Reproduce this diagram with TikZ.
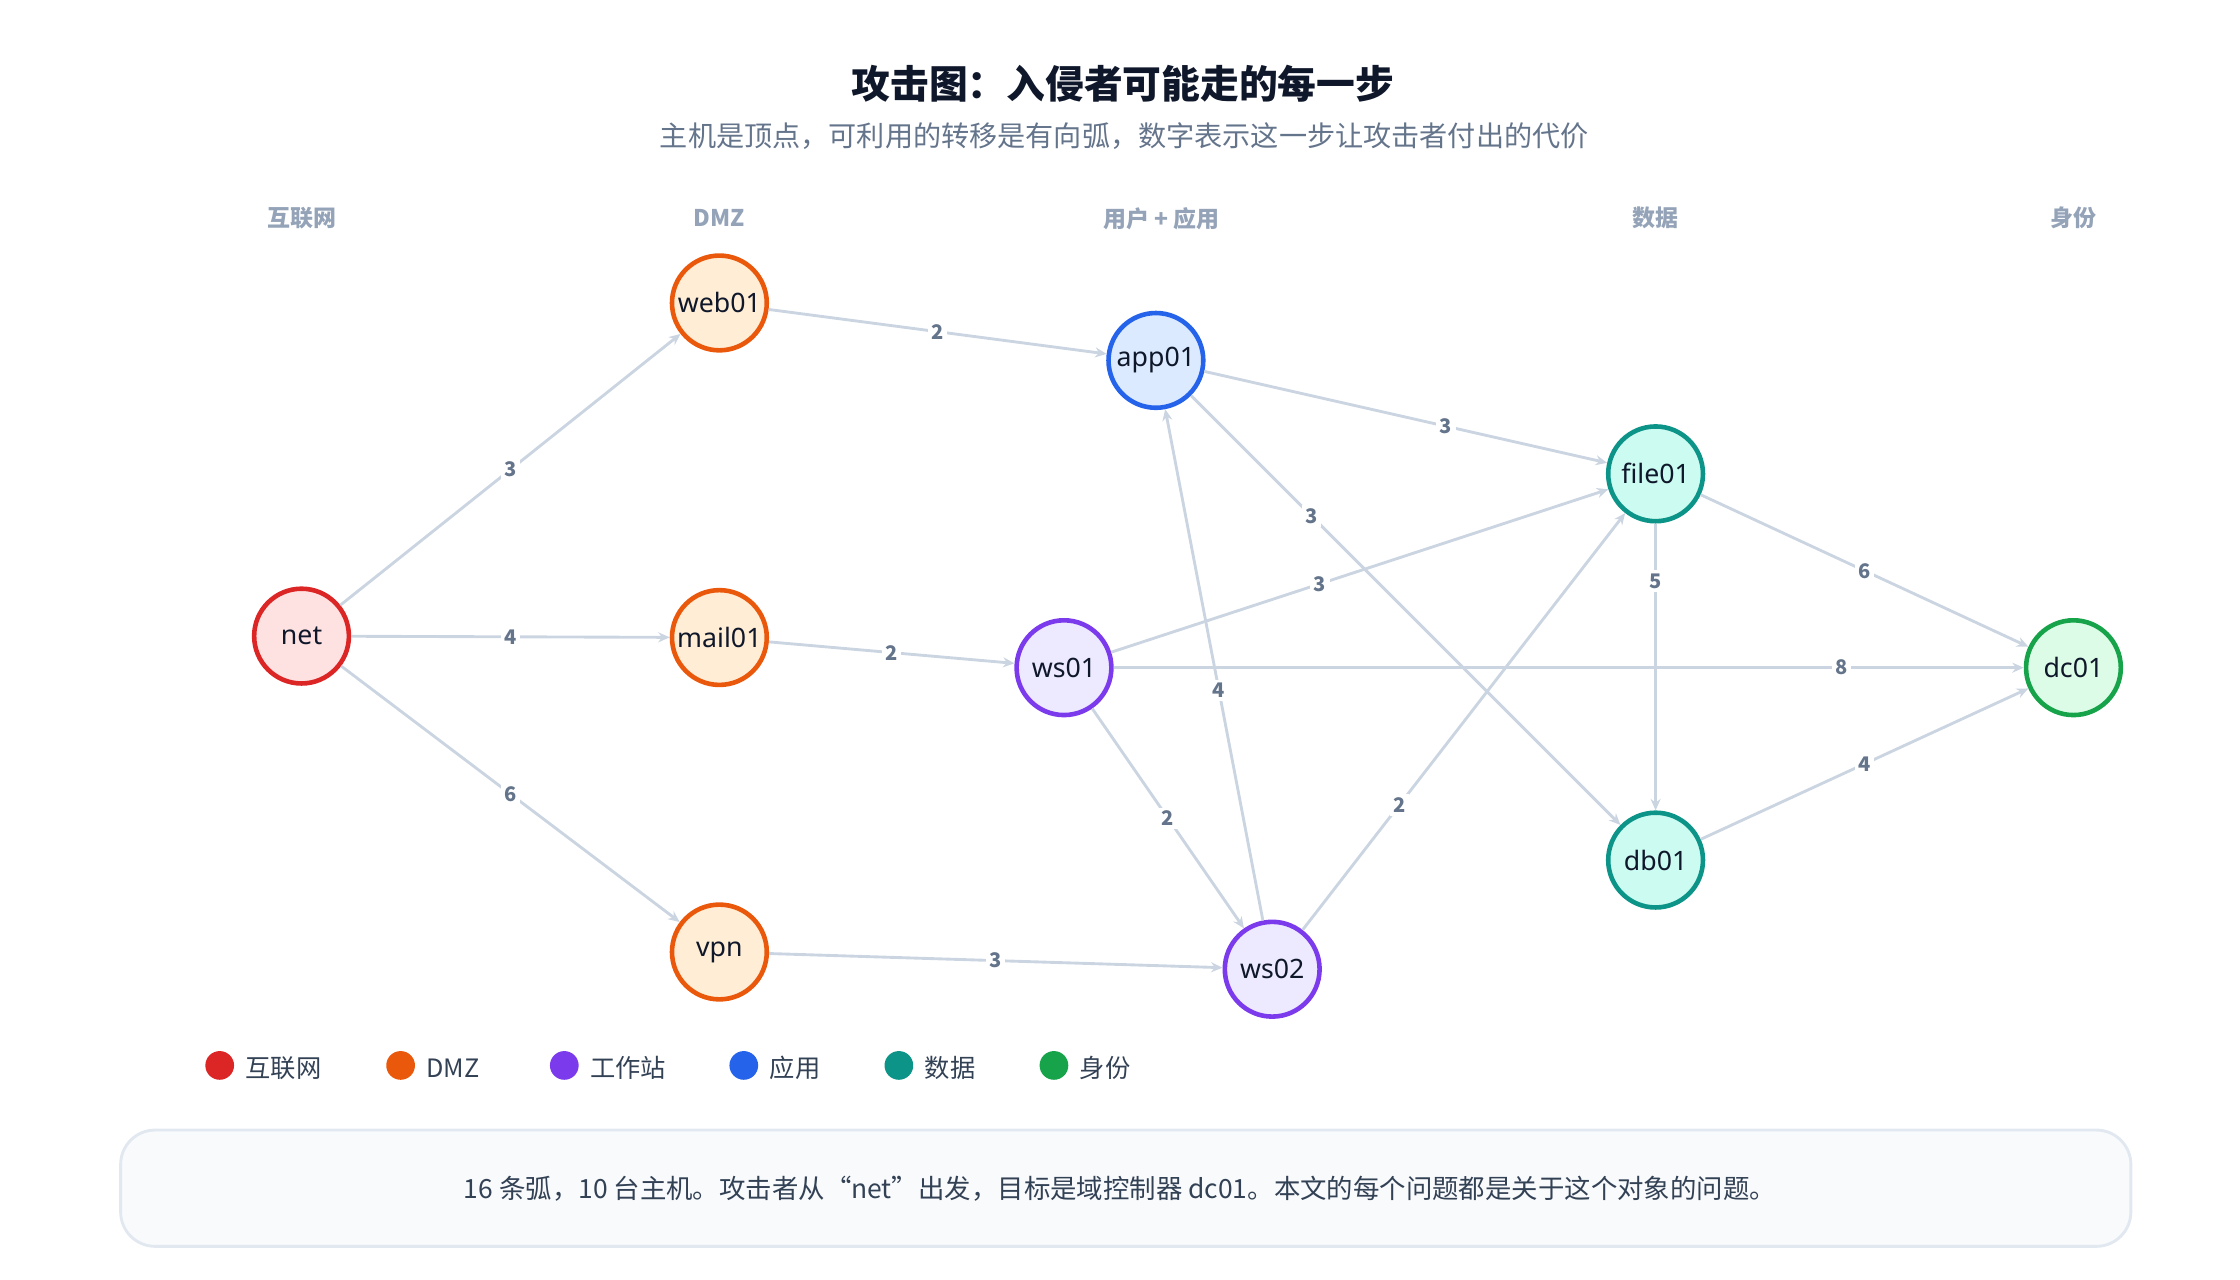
\documentclass[tikz,border=0pt]{standalone}
\usepackage{fontspec}
\setmainfont{Noto Sans CJK SC}
\newfontfamily\lat{Noto Sans}
\usetikzlibrary{arrows.meta}
\definecolor{edge}{HTML}{CBD5E1}
\definecolor{lbl}{HTML}{64748B}
\definecolor{hdr}{HTML}{94A3B8}
\definecolor{ttl}{HTML}{0F172A}
\definecolor{txt}{HTML}{334155}
\definecolor{boxF}{HTML}{F8FAFC}
\definecolor{boxS}{HTML}{E2E8F0}
\definecolor{rS}{HTML}{DC2626}\definecolor{rF}{HTML}{FEE2E2}
\definecolor{oS}{HTML}{EA580C}\definecolor{oF}{HTML}{FFEDD5}
\definecolor{pS}{HTML}{7C3AED}\definecolor{pF}{HTML}{EDE9FE}
\definecolor{bS}{HTML}{2563EB}\definecolor{bF}{HTML}{DBEAFE}
\definecolor{tS}{HTML}{0D9488}\definecolor{tF}{HTML}{CCFBF1}
\definecolor{gS}{HTML}{16A34A}\definecolor{gF}{HTML}{DCFCE7}
\begin{document}
\begin{tikzpicture}[x=0.5pt,y=-0.5pt,
  host/.style={circle,line width=1.6pt,minimum size=33pt,inner sep=0pt,font=\lat\bfseries\fontsize{9.3}{11}\selectfont,text=ttl},
  inet/.style={host,draw=rS,fill=rF}, dmz/.style={host,draw=oS,fill=oF},
  ws/.style={host,draw=pS,fill=pF}, app/.style={host,draw=bS,fill=bF},
  dat/.style={host,draw=tS,fill=tF}, idn/.style={host,draw=gS,fill=gF},
  e/.style={draw=edge,line width=1pt,-{Stealth[length=4pt,width=3.5pt]}},
  w/.style={fill=white,inner sep=1.2pt,font=\bfseries\fontsize{7}{8}\selectfont,text=lbl},
  hd/.style={font=\bfseries\fontsize{8}{10}\selectfont,text=hdr},
  dot/.style={circle,inner sep=0pt,minimum size=10pt},
  lg/.style={font=\fontsize{8.8}{10}\selectfont,text=txt,anchor=west}]
\useasboundingbox (0,0) rectangle (1560,891.4);
\node[font=\bfseries\fontsize{13.5}{15}\selectfont,text=ttl] (t) at (782,58) {攻击图：入侵者可能走的每一步};
\node[font=\fontsize{9.8}{11}\selectfont,text=lbl] (st) at (783,95) {主机是顶点，可利用的转移是有向弧，数字表示这一步让攻击者付出的代价};
\node[hd] (h1) at (210,152) {互联网};
\node[hd] (h2) at (501,152) {DMZ};
\node[hd] (h3) at (809,152) {用户 + 应用};
\node[hd] (h4) at (1153,152) {数据};
\node[hd] (h5) at (1444,152) {身份};
\node[inet] (net) at (210,443) {net};
\node[dmz] (web01) at (501,211) {web01};
\node[dmz] (mail01) at (501,444) {mail01};
\node[dmz] (vpn) at (501,663) {vpn};
\node[app] (app01) at (805,251) {app01};
\node[ws] (ws01) at (741,465) {ws01};
\node[ws] (ws02) at (886,675) {ws02};
\node[dat] (file01) at (1153,330) {file01};
\node[dat] (db01) at (1153,599) {db01};
\node[idn] (dc01) at (1444,465) {dc01};
\draw[e] (net) -- node[w,pos=0.5]{3} (web01);
\draw[e] (net) -- node[w,pos=0.5]{4} (mail01);
\draw[e] (net) -- node[w,pos=0.5]{6} (vpn);
\draw[e] (web01) -- node[w,pos=0.5]{2} (app01);
\draw[e] (mail01) -- node[w,pos=0.5]{2} (ws01);
\draw[e] (vpn) -- node[w,pos=0.5]{3} (ws02);
\draw[e] (app01) -- node[w,pos=0.6]{3} (file01);
\draw[e] (app01) -- node[w,pos=0.28]{3} (db01);
\draw[e] (ws01) -- node[w,pos=0.42]{3} (file01);
\draw[e] (ws01) -- node[w,pos=0.8]{8} (dc01);
\draw[e] (ws01) -- node[w,pos=0.5]{2} (ws02);
\draw[e] (ws02) -- node[w,pos=0.45]{4} (app01);
\draw[e] (ws02) -- node[w,pos=0.3]{2} (file01);
\draw[e] (file01) -- node[w,pos=0.5]{6} (dc01);
\draw[e] (file01) -- node[w,pos=0.2]{5} (db01);
\draw[e] (db01) -- node[w,pos=0.5]{4} (dc01);
\node[dot,fill=rS] (l1) at (153,742) {}; \node[lg] (lt1) at (164,744) {互联网};
\node[dot,fill=oS] (l2) at (279,742) {}; \node[lg] (lt2) at (290,744) {DMZ};
\node[dot,fill=pS] (l3) at (393,742) {}; \node[lg] (lt3) at (404,744) {工作站};
\node[dot,fill=bS] (l4) at (518,742) {}; \node[lg] (lt4) at (529,744) {应用};
\node[dot,fill=tS] (l5) at (626,742) {}; \node[lg] (lt5) at (637,744) {数据};
\node[dot,fill=gS] (l6) at (734,742) {}; \node[lg] (lt6) at (745,744) {身份};
\draw[draw=boxS,fill=boxF,line width=1pt,rounded corners=12pt] (84,787) rectangle (1484,868);
\node[font=\fontsize{9.2}{10}\selectfont,text=txt] (note) at (780,828) {16 条弧，10 台主机。攻击者从“net”出发，目标是域控制器 dc01。本文的每个问题都是关于这个对象的问题。};
\end{tikzpicture}
\end{document}
